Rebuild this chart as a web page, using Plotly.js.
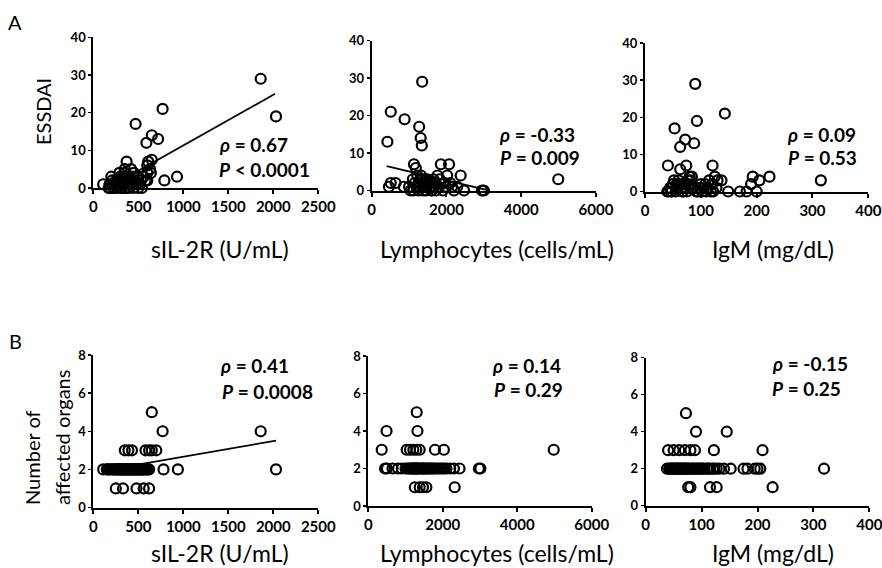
<!DOCTYPE html>
<html>
<head>
<meta charset="utf-8">
<script src="https://cdn.plot.ly/plotly-3.0.1.min.js"></script>
<style>html,body{margin:0;padding:0;background:#fff}#chart{width:882px;height:568px}</style>
</head>
<body>
<div id="chart"></div>
<script>
// ---- Data ----
// Panel A: ESSDAI vs sIL-2R
const a1X = [1860,2030,770,470,650,720,590,370,610,650,600,630,930,790,110,200,560,600,640,350,450,300,400,250,180,220,260,300,350,400,450,500,170,280,330,380,420,470,520,540,310,360,390,430,480,240,330,370,420,350,290,210,190,230,270,320,440,500,580,530,600,380];
const a1Y = [29,19,21,17,14,13,12,7,7,7.5,6,5,3,2,1,3,3,4,4,4,4,3,3,2,1,0,0,0,0,0,0,0,0,1,1,1,2,2,1,0,2,2,2,1,1,1,3,3,5,5,4,2,0,0,2,0,3,3,2,2,2,0];
const a1FitX = [160,2020];
const a1FitY = [0,25];
// Panel A: ESSDAI vs Lymphocytes
const a2X = [1350,510,880,420,1270,1310,1340,1130,1180,1850,2070,2020,2380,4990,2950,3000,510,460,640,860,1040,2470,2290,1760,1100,1150,1200,1250,1300,1350,1400,1450,1500,1550,1600,1650,1700,1800,1900,2000,2100,2200,1220,1320,1420,1520,1620,1720,1280,1380,1480,1580,1680,1250,1350,1450,1950,2150,1000,1120,1600,1820];
const a2Y = [29,21,19,13,17,14,12,7,6,7,7,4,4,3,0,0,2,1,2,1,0,0,1,4,3,2,1,0,3,2,1,0,2,1,0,3,2,1,0,1,2,0,4,4,3,2,1,0,1,0,3,2,1,2,3,1,2,1,1,0,0,3];
const a2FitX = [400,3130];
const a2FitY = [6.5,0];
// Panel A: ESSDAI vs IgM
const a3X = [90,143,93,53,72,88,63,41,74,63,121,315,223,193,205,190,149,170,182,200,137,125,84,40,45,50,55,60,65,70,75,80,85,95,100,105,110,115,120,128,130,42,48,58,68,78,98,108,118,52,62,72,82,92,102,112,122,47,57,67,77,87];
const a3Y = [29,21,19,17,14,13,12,7,7,6,7,3,4,4,3,2,0,0,0,0,3,4,4,0,1,2,0,3,1,2,0,4,1,0,2,1,0,3,2,1,3,0,0,1,0,2,1,2,0,3,2,1,3,0,0,1,0,0,2,0,3,1];
// Panel B: Number of affected organs vs sIL-2R
const b1X = [650,770,1860,350,390,430,580,620,650,700,110,150,180,200,220,240,260,280,300,310,320,340,360,370,380,400,410,420,440,450,460,480,500,520,540,560,590,620,780,940,2030,160,230,270,290,330,350,390,430,470,490,510,530,550,570,600,250,330,480,560,620];
const b1Y = [5,4,4,3,3,3,3,3,3,3,2,2,2,2,2,2,2,2,2,2,2,2,2,2,2,2,2,2,2,2,2,2,2,2,2,2,2,2,2,2,2,2,2,2,2,2,2,2,2,2,2,2,2,2,2,2,1,1,1,1,1];
const b1FitX = [110,2030];
const b1FitY = [1.93,3.51];
// Panel B: Number of affected organs vs Lymphocytes
const b2X = [1300,490,1320,360,1030,1120,1210,1290,1380,1790,2030,4980,450,500,800,900,1000,1050,1100,1150,1200,1250,1300,1350,1400,1450,1500,1550,1600,1650,1700,1750,1800,1850,1900,1950,2000,2100,2200,2300,2450,2970,3010,1120,1220,1320,1420,1520,1620,1720,1230,1330,1280,1180,1480,2050,650,1250,1380,1470,1560,2320];
const b2Y = [5,4,4,3,3,3,3,3,3,3,3,3,2,2,2,2,2,2,2,2,2,2,2,2,2,2,2,2,2,2,2,2,2,2,2,2,2,2,2,2,2,2,2,2,2,2,2,2,2,2,2,2,2,2,2,2,2,1,1,1,1,1];
// Panel B: Number of affected organs vs IgM
const b3X = [72,90,145,40,50,60,70,80,88,122,209,38,42,46,50,54,58,62,66,70,74,78,82,86,90,95,100,105,110,115,120,127,140,152,175,182,195,200,205,319,44,52,60,68,76,84,92,102,112,122,132,48,56,64,72,98,76,80,115,127,227];
const b3Y = [5,4,4,3,3,3,3,3,3,3,3,2,2,2,2,2,2,2,2,2,2,2,2,2,2,2,2,2,2,2,2,2,2,2,2,2,2,2,2,2,2,2,2,2,2,2,2,2,2,2,2,2,2,2,2,2,1,1,1,1,1];

// Tick labels
const xTicksSIL = [0,500,1000,1500,2000,2500];
const xTicksLym = [0,2000,4000,6000];
const xTicksIgM = [0,100,200,300,400];
const yTicksA = [0,10,20,30,40];
const yTicksB = [0,2,4,6,8];

// Texts
const xTitles = ['sIL-2R (U/mL)','Lymphocytes (cells/mL)','IgM (mg/dL)'];
const rhoA = ['0.67','-0.33','0.09'];
const pA = ['< 0.0001','= 0.009','= 0.53'];
const rhoB = ['0.41','0.14','-0.15'];
const pB = ['= 0.0008','= 0.29','= 0.25'];

// ---- Layout helpers ----
const W = 882, H = 568;
const px = (a,b) => [a/W, b/W];
const py = (top,bottom) => [1 - bottom/H, 1 - top/H];
const fx = v => v/W;
const fy = v => 1 - v/H;
const FONT = "Lato, 'Open Sans', 'DejaVu Sans', sans-serif";

function xa(dom, anchor, range, ticks) {
  return {domain: dom, anchor: anchor, range: range, tickvals: ticks, ticktext: ticks.map(t=>'<b>'+t+'</b>'),
    showgrid:false, zeroline:false, showline:true, linecolor:'#000', linewidth:2,
    ticks:'outside', ticklen:4, tickwidth:2, tickcolor:'#000', ticklabeloverflow:'allow',
    tickfont:{family:FONT, size:15, color:'#000', weight:'bold'}, fixedrange:true};
}
function ya(dom, anchor, range, ticks) {
  return {domain: dom, anchor: anchor, range: range, tickvals: ticks, ticktext: ticks.map(t=>'<b>'+t+'</b>'),
    showgrid:false, zeroline:false, showline:true, linecolor:'#000', linewidth:2,
    ticks:'outside', ticklen:3, tickwidth:1.5, tickcolor:'#000', ticklabelstandoff:0, ticklabeloverflow:'allow',
    tickfont:{family:FONT, size:13, color:'#000', weight:'bold'}, fixedrange:true};
}

const mk = {symbol:'circle', size:10, color:'rgba(255,255,255,0)', line:{color:'#000', width:2.2}};
function pts(x,y,xr,yr){return {x:x,y:y,xaxis:xr,yaxis:yr,type:'scatter',mode:'markers',marker:mk,cliponaxis:false,hoverinfo:'skip',showlegend:false};}
function fit(x,y,xr,yr){return {x:x,y:y,xaxis:xr,yaxis:yr,type:'scatter',mode:'lines',line:{color:'#000',width:1.8},hoverinfo:'skip',showlegend:false};}

const data = [
  fit(a1FitX,a1FitY,'x','y'), pts(a1X,a1Y,'x','y'),
  fit(a2FitX,a2FitY,'x2','y2'), pts(a2X,a2Y,'x2','y2'),
  pts(a3X,a3Y,'x3','y3'),
  fit(b1FitX,b1FitY,'x4','y4'), pts(b1X,b1Y,'x4','y4'),
  pts(b2X,b2Y,'x5','y5'),
  pts(b3X,b3Y,'x6','y6')
];

const ann = [];
function txt(t, x, y, size, opts) {
  ann.push(Object.assign({text:t, x:fx(x), y:fy(y), xref:'paper', yref:'paper', showarrow:false,
    xanchor:'left', yanchor:'middle', font:{family:FONT, size:size, color:'#000'}}, opts||{}));
}
// panel letters
txt('A', 6, 22, 20);
txt('B', 7, 341, 20);
// y titles
txt('ESSDAI', 43, 112, 20, {textangle:-90, xanchor:'center'});
txt('Number of', 32, 458, 20, {textangle:-90, xanchor:'center'});
txt('affected organs', 62, 438, 20, {textangle:-90, xanchor:'center'});
// x titles
const xtC = [220, 497, 773];
xTitles.forEach((t,i)=>{ txt(t, xtC[i], 249, 23, {xanchor:'center'}); txt(t, xtC[i], 553, 23, {xanchor:'center'}); });
// stats
const statA = [[217,145,217,170],[497,134,498,158],[785,134,786,158]];
const statB = [[218,365,220,391],[490,365,492,389],[770,363,770,388]];
function stat(pos, r, p){
  txt('<b><i>ρ</i> = ' + r + '</b>', pos[0], pos[1], 19);
  txt('<b><i>P</i> ' + p + '</b>', pos[2], pos[3], 19);
}
statA.forEach((s,i)=>stat(s, rhoA[i], pA[i]));
statB.forEach((s,i)=>stat(s, rhoB[i], pB[i]));

const layout = {
  width:W, height:H, margin:{l:0,r:0,t:0,b:0}, paper_bgcolor:'#fff', plot_bgcolor:'rgba(0,0,0,0)',
  showlegend:false,
  xaxis:  xa(px(93.3,318.3),'y',[0,2500],xTicksSIL),  yaxis:  ya(py(37.3,188),'x',[0,40],yTicksA),
  xaxis2: xa(px(371.7,596),'y2',[0,6000],xTicksLym), yaxis2: ya(py(40.5,190.5),'x2',[0,40],yTicksA),
  xaxis3: xa(px(645,868.3),'y3',[0,400],xTicksIgM),  yaxis3: ya(py(43,191.5),'x3',[0,40],yTicksA),
  xaxis4: xa(px(93.3,318.3),'y4',[0,2500],xTicksSIL), yaxis4: ya(py(355,507.5),'x4',[0,8],yTicksB),
  xaxis5: xa(px(368.3,591.7),'y5',[0,6000],xTicksLym), yaxis5: ya(py(356,506),'x5',[0,8],yTicksB),
  xaxis6: xa(px(645.7,869.3),'y6',[0,400],xTicksIgM), yaxis6: ya(py(357.7,505.7),'x6',[0,8],yTicksB),
  annotations: ann
};
Plotly.newPlot('chart', data, layout, {staticPlot:true, displayModeBar:false});
</script>
</body>
</html>
